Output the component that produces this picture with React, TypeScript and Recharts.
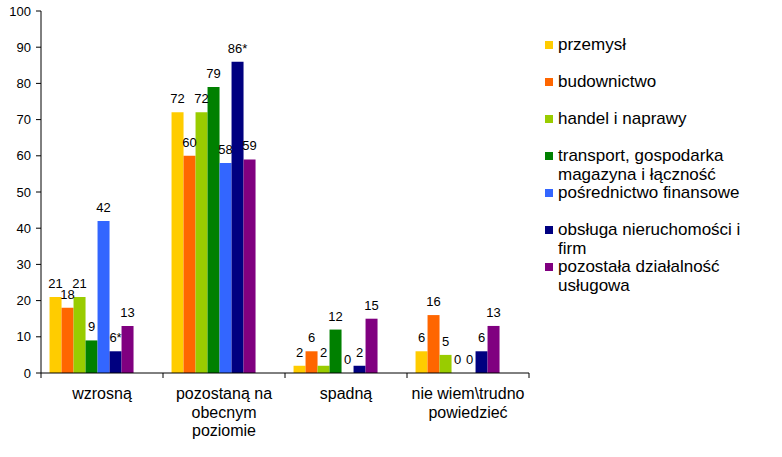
import React from 'react';
import { BarChart, Bar, XAxis, YAxis, Legend, LabelList } from 'recharts';

const categoryNames = ['wzrosną', 'pozostaną na obecnym poziomie', 'spadną', 'nie wiem\\trudno powiedzieć'];
const categoryLines = [['wzrosną'], ['pozostaną na', 'obecnym', 'poziomie'], ['spadną'], ['nie wiem\\trudno', 'powiedzieć']];

const seriesNames = [
  'przemysł',
  'budownictwo',
  'handel i naprawy',
  'transport, gospodarka magazyna i łączność',
  'pośrednictwo finansowe',
  'obsługa nieruchomości i firm',
  'pozostała działalność usługowa',
];
const seriesColors = ['#FFCC00', '#FF6600', '#99CC00', '#008000', '#3366FF', '#000080', '#800080'];

const przemysl = [21, 72, 2, 6];
const budownictwo = [18, 60, 6, 16];
const handel = [21, 72, 2, 5];
const transport = [9, 79, 12, 0];
const posrednictwo = [42, 58, 0, 0];
const obsluga = [6, 86, 2, 6];
const pozostala = [13, 59, 15, 13];
const obslugaLabels = ['6*', '86*', '2', '6'];

// two empty series in the source chart (they reserve slots, no data)
const emptySeriesKeys = ['e0', 'e1'];

const yTicks = [0, 10, 20, 30, 40, 50, 60, 70, 80, 90, 100];

const allSeries = [przemysl, budownictwo, handel, transport, posrednictwo, obsluga, pozostala];

const data = categoryNames.map((name, i) => {
  const row: any = { name };
  allSeries.forEach((s, k) => {
    row['s' + k] = s[i];
    row['l' + k] = k === 5 ? obslugaLabels[i] : String(s[i]);
  });
  emptySeriesKeys.forEach((key) => {
    row[key] = null;
  });
  return row;
});

const FONT = '"Liberation Sans", Arial, sans-serif';

const CategoryTick = (props: any) => {
  const { x, y, payload, tickSize } = props;
  const half = payload && payload.offset ? payload.offset : 0;
  const idx = payload && payload.index != null ? payload.index : props.index;
  const lines = categoryLines[idx] || [String(payload.value)];
  const ts = typeof tickSize === 'number' ? tickSize : 5;
  const isLast = idx === categoryNames.length - 1;
  return (
    <g>
      <line x1={x - half} x2={x - half} y1={y - ts} y2={y} stroke="#000" strokeWidth={1} />
      {isLast && <line x1={x + half} x2={x + half} y1={y - ts} y2={y} stroke="#000" strokeWidth={1} />}
      <text x={x} y={y + 21} textAnchor="middle" fontSize={16} fontFamily={FONT} fill="#000">
        {lines.map((ln, i) => (
          <tspan key={i} x={x} dy={i === 0 ? 0 : 18.5}>
            {ln}
          </tspan>
        ))}
      </text>
    </g>
  );
};

const LegendContent = (props: any) => {
  const payload = props.payload || [];
  const ordered = seriesNames
    .map((nm) => payload.find((p: any) => p.value === nm))
    .filter(Boolean);
  return (
    <div style={{ position: 'relative', width: 220, height: 290, fontFamily: FONT }}>
      {ordered.map((entry: any, i: number) => (
        <div
          key={i}
          style={{
            position: 'absolute',
            left: 0,
            top: i * 37,
            width: 220,
          }}
        >
          <div
            style={{
              position: 'absolute',
              left: 0,
              top: 6,
              width: 8,
              height: 8,
              background: entry.color,
            }}
          />
          <div
            style={{
              marginLeft: 13,
              maxWidth: 200,
              fontSize: 17,
              lineHeight: '19px',
              color: '#000',
              textAlign: 'left',
            }}
          >
            {entry.value}
          </div>
        </div>
      ))}
    </div>
  );
};

const zeroMin = (v: any) => (v === 0 ? 0.01 : 0);

export default function App() {
  return (
    <div style={{ position: 'absolute', left: 0, top: 0, width: 782, height: 457, background: '#fff' }}>
      <BarChart
        width={782}
        height={457}
        data={data}
        margin={{ top: 11, right: 253, bottom: 0, left: 0 }}
        barCategoryGap="7%"
        barGap={0}
      >
        <XAxis
          dataKey="name"
          height={84}
          axisLine={{ stroke: '#000' }}
          tickLine={false}
          tickSize={5}
          tickMargin={0}
          interval={0}
          tick={<CategoryTick />}
        />
        <YAxis
          width={41}
          domain={[0, 100]}
          ticks={yTicks}
          interval={0}
          axisLine={{ stroke: '#000' }}
          tickLine={{ stroke: '#000' }}
          tickSize={5}
          tickMargin={5}
          tick={{ fontSize: 13, fontFamily: FONT, fill: '#000' }}
        />
        <Legend
          layout="horizontal"
          verticalAlign="middle"
          align="center"
          content={<LegendContent />}
          wrapperStyle={{ left: 545, top: 35, width: 220, height: 290 }}
        />
        {seriesNames.map((nm, k) => (
          <Bar
            key={k}
            dataKey={'s' + k}
            name={nm}
            fill={seriesColors[k]}
            legendType="square"
            minPointSize={zeroMin as any}
            isAnimationActive={false}
          >
            <LabelList
              dataKey={'l' + k}
              position="top"
              offset={9}
              style={{ fontSize: 13, fontFamily: FONT, fill: '#000' }}
            />
          </Bar>
        ))}
        {emptySeriesKeys.map((key) => (
          <Bar key={key} dataKey={key} legendType="none" fill="none" isAnimationActive={false} />
        ))}
      </BarChart>
    </div>
  );
}
